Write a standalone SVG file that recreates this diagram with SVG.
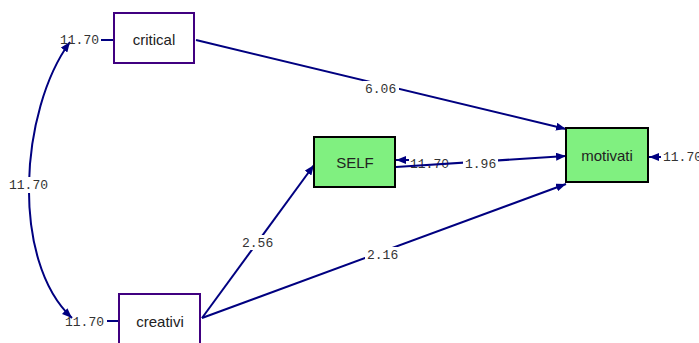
<svg xmlns="http://www.w3.org/2000/svg" width="699" height="343" viewBox="0 0 699 343">
<style>
.obs{fill:#fff;stroke:#400080;stroke-width:2}
.lat{fill:#80f080;stroke:#000;stroke-width:2}
.nm{font-family:"Liberation Sans",Arial,sans-serif;font-size:15px;fill:#222;text-anchor:middle}
.num{font-family:"Liberation Mono","Courier New",monospace;font-size:13px;fill:#333}
.ln{stroke:#000080;stroke-width:2;fill:none}
.arr{marker-end:url(#ah)}
.bg{fill:#fff}
</style>
<defs>
<marker id="ah" viewBox="0 0 10 8" refX="10" refY="4" markerWidth="10" markerHeight="8" markerUnits="userSpaceOnUse" orient="auto-start-reverse">
<path d="M0,0 L10,4 L0,8 z" fill="#000080"/>
</marker>
</defs>
<rect width="699" height="343" fill="#fff"/>
<text class="num" x="410" y="168">11.70</text>
<g id="connectors">
<path class="ln" d="M70,42 C20,110 10,260 72,318" marker-start="url(#ah)" marker-end="url(#ah)"/>
<line class="ln" x1="101" y1="40" x2="114" y2="40"/>
<line class="ln" x1="107" y1="321" x2="119" y2="321"/>
<line class="ln arr" x1="196" y1="40" x2="566" y2="129"/>
<line class="ln arr" x1="202" y1="318" x2="314" y2="165"/>
<line class="ln arr" x1="202" y1="318" x2="566" y2="184"/>
<line class="ln arr" x1="396" y1="167" x2="566" y2="156"/>
<line class="ln arr" x1="409" y1="160" x2="396" y2="160"/>
<line class="ln arr" x1="661" y1="157" x2="649" y2="157"/>
<rect class="bg" x="363" y="81" width="36" height="15"/>
<rect class="bg" x="240" y="235" width="36" height="15"/>
<rect class="bg" x="365" y="247" width="36" height="15"/>
<rect class="bg" x="463" y="157" width="35" height="14"/>
<rect class="bg" x="8" y="177" width="42" height="16"/>
<text class="num" x="60" y="44">11.70</text>
<text class="num" x="65" y="326">11.70</text>
<text class="num" x="9" y="189">11.70</text>
<text class="num" x="365" y="93">6.06</text>
<text class="num" x="242" y="247">2.56</text>
<text class="num" x="367" y="259">2.16</text>
<text class="num" x="465" y="168">1.96</text>
<text class="num" x="663" y="161">11.70</text>
</g>
<g id="critical"><rect class="obs" x="114" y="13" width="80" height="50"/><text class="nm" x="154" y="45">critical</text></g>
<g id="creativi"><rect class="obs" x="119" y="294" width="81" height="52"/><text class="nm" x="160" y="327">creativi</text></g>
<g id="SELF"><rect class="lat" x="314" y="137" width="81" height="50"/><text class="nm" x="355" y="168">SELF</text></g>
<g id="motivati"><rect class="lat" x="566" y="128" width="82" height="54"/><text class="nm" x="607" y="161">motivati</text></g>
</svg>
